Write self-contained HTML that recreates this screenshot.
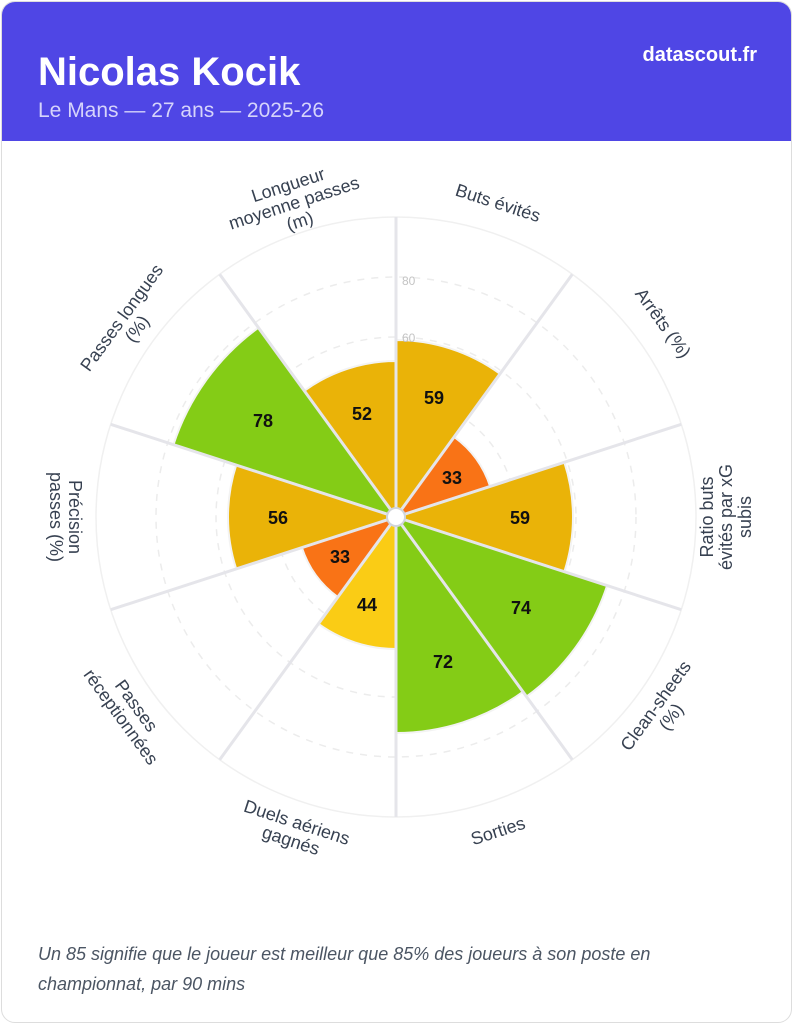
<!DOCTYPE html>
<html><head><meta charset="utf-8"><style>
body{margin:0;background:#fff;width:793px;height:1024px;overflow:hidden;font-family:"Liberation Sans",sans-serif}
.card{position:absolute;left:1px;top:1px;width:789px;height:1020px;border:1px solid #ddd;border-radius:14px;overflow:hidden;background:#fff}
.hdr{position:absolute;left:0;top:0;width:789px;height:139px;background:#4f46e5}
.t{position:absolute;left:36px;top:48px;color:#fff;font-weight:bold;font-size:40px}
.s{position:absolute;left:36px;top:97px;color:#d6d4fb;font-size:21px}
.d{position:absolute;right:34px;top:42px;color:#fff;font-weight:bold;font-size:20px}
.f{position:absolute;left:36px;top:937px;color:#4b5563;font-style:italic;font-size:18px;line-height:30px;width:720px}
svg{position:absolute;left:0;top:0}
</style></head><body>
<div class="card">
<div class="hdr"></div>
<div class="t">Nicolas Kocik</div>
<div class="s">Le Mans — 27 ans — 2025-26</div>
<div class="d">datascout.fr</div>
<div class="f">Un 85 signifie que le joueur est meilleur que 85% des joueurs à son poste en championnat, par 90 mins</div>
</div>
<svg width="793" height="1024" xmlns="http://www.w3.org/2000/svg">
<g id="grid" fill="none" stroke="#ececec" stroke-width="1.5" stroke-dasharray="7,7">
<circle cx="396" cy="517" r="60"/><circle cx="396" cy="517" r="120"/><circle cx="396" cy="517" r="180"/><circle cx="396" cy="517" r="240"/>
</g>
<circle cx="396" cy="517" r="300" fill="none" stroke="#f0f0f0" stroke-width="1.5"/>
<g id="w" stroke="#f3f3f3" stroke-width="2"></g>
<g id="l" stroke="#e5e5ea" stroke-width="3"></g>
<text x="402" y="285" font-size="12" fill="#c4c4c4">80</text>
<text x="402" y="342" font-size="12" fill="#c4c4c4">60</text>
<circle cx="396" cy="517" r="9" fill="#fff" stroke="#d1d5db" stroke-width="2"/>
<g font-size="18" font-weight="bold" fill="#111" text-anchor="middle">
<text x="434" y="404">59</text>
<text x="452" y="484">33</text>
<text x="520" y="524">59</text>
<text x="521" y="614">74</text>
<text x="443" y="668">72</text>
<text x="367" y="611">44</text>
<text x="340" y="563">33</text>
<text x="278" y="524">56</text>
<text x="263" y="427">78</text>
<text x="362" y="420">52</text>
</g>
<g font-size="18" fill="#374151" text-anchor="middle">
<text transform="translate(498,203) rotate(18)" y="6">Buts évités</text>
<text transform="translate(663,323) rotate(54)" y="6">Arrêts (%)</text>
<text transform="translate(726,517) rotate(-90)"><tspan x="0" y="-13">Ratio buts</tspan><tspan x="0" y="6">évités par xG</tspan><tspan x="0" y="25">subis</tspan></text>
<text transform="translate(663,711) rotate(-54)"><tspan x="0" y="-3">Clean-sheets</tspan><tspan x="0" y="16">(%)</tspan></text>
<text transform="translate(498,831) rotate(-18)" y="6">Sorties</text>
<text transform="translate(294,831) rotate(18)"><tspan x="0" y="-3">Duels aériens</tspan><tspan x="0" y="16">gagnés</tspan></text>
<text transform="translate(129,711) rotate(54)"><tspan x="0" y="-3">Passes</tspan><tspan x="0" y="16">réceptionnées</tspan></text>
<text transform="translate(66,517) rotate(90)"><tspan x="0" y="-3">Précision</tspan><tspan x="0" y="16">passes (%)</tspan></text>
<text transform="translate(129,323) rotate(-54)"><tspan x="0" y="-3">Passes longues</tspan><tspan x="0" y="16">(%)</tspan></text>
<text transform="translate(294,203) rotate(-18)"><tspan x="0" y="-13">Longueur</tspan><tspan x="0" y="6">moyenne passes</tspan><tspan x="0" y="25">(m)</tspan></text>
</g>
</svg>
<script>
var cx=396,cy=517,R=300,ns="http://www.w3.org/2000/svg";
var v=[59,33,59,74,72,44,33,56,78,52];
function col(x){return x<40?"#f97316":x<50?"#facc15":x<70?"#eab308":"#84cc16";}
function p(a,r){a=a*Math.PI/180;return [(cx+r*Math.sin(a)).toFixed(2),(cy-r*Math.cos(a)).toFixed(2)];}
var w=document.getElementById("w"),l=document.getElementById("l");
for(var i=0;i<10;i++){var r=v[i]*3,a=p(i*36,r),b=p(i*36+36,r);
var e=document.createElementNS(ns,"path");
e.setAttribute("d","M"+cx+","+cy+"L"+a+"A"+r+","+r+" 0 0 1 "+b+"Z");e.setAttribute("fill",col(v[i]));w.appendChild(e);
var q=p(i*36,R),ln=document.createElementNS(ns,"line");
ln.setAttribute("x1",cx);ln.setAttribute("y1",cy);ln.setAttribute("x2",q[0]);ln.setAttribute("y2",q[1]);l.appendChild(ln);}
</script>
</body></html>
